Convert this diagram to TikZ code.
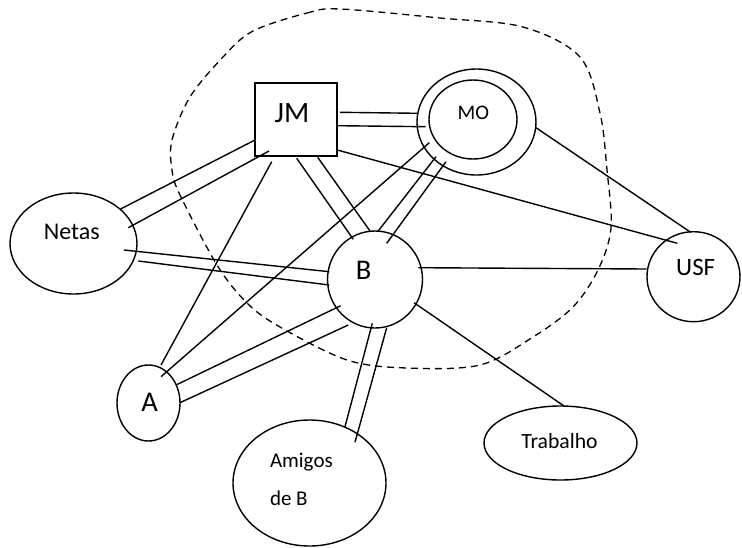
\documentclass[tikz,border=0pt]{standalone}
\usepackage{fontspec}
\setmainfont{Carlito}
\usetikzlibrary{shapes.geometric}
\begin{document}
\begin{tikzpicture}[x=1pt,y=-1pt,
  member/.style={draw, ellipse, line width=1.4pt, inner sep=0pt, outer sep=0pt},
  boxmember/.style={draw, rectangle, line width=1.4pt, inner sep=0pt, outer sep=0pt},
  tie/.style={line width=1.4pt},
  boundary/.style={line width=1.3pt, dash pattern=on 7pt off 5pt},
  lbl/.style={inner sep=0pt, outer sep=0pt, anchor=base},
  lblw/.style={inner sep=0pt, outer sep=0pt, anchor=base west}]
\useasboundingbox (0,0) rectangle (742,547);

% household boundary
\draw[boundary] plot[smooth cycle, tension=0.55] coordinates {
  (253,31) (307,13) (340,9) (440,18) (523,27) (580,57) (600,113)
  (607,170) (611,228) (598,270) (573,307) (533,337) (480,365)
  (407,368) (347,360) (280,327) (247,303) (217,265) (180,195)
  (172,170) (172,140) (190,97) (223,57)};

% members
\node[boxmember, minimum width=82pt, minimum height=73pt] (JM) at (296,119.5) {};
\node[member, minimum width=119pt, minimum height=106pt] (MO) at (476.5,122) {};
\node[member, minimum width=88pt, minimum height=79pt] (MOin) at (473,119.5) {};
\node[member, minimum width=127pt, minimum height=101pt] (Netas) at (73.5,243.5) {};
\node[member, minimum width=95pt, minimum height=97pt] (B) at (375,279.5) {};
\node[member, minimum width=93pt, minimum height=90pt] (USF) at (693.5,276.7) {};
\node[member, minimum width=63pt, minimum height=76pt] (A) at (148.5,403) {};
\node[member, minimum width=153pt, minimum height=126pt] (Amigos) at (309.5,483) {};
\node[member, minimum width=153pt, minimum height=74pt] (Trab) at (560.5,443) {};

% labels
\node[lbl, font=\fontsize{29.5}{30}\selectfont] (tJM) at (292,122.3) {JM};
\node[lbl, font=\fontsize{20.7}{21}\selectfont] (tMO) at (473.3,119.9) {MO};
\node[lbl, font=\fontsize{28.5}{29}\selectfont] (tB) at (363.7,279.8) {B};
\node[lbl, font=\fontsize{24}{25}\selectfont] (tNetas) at (71.8,239.8) {Netas};
\node[lbl, font=\fontsize{25}{26}\selectfont] (tUSF) at (695.7,275.9) {USF};
\node[lbl, font=\fontsize{28.5}{29}\selectfont] (tA) at (149.5,411.5) {A};
\node[lbl, font=\fontsize{21.7}{22}\selectfont] (tTrab) at (559.5,448.2) {Trabalho};
\node[lblw, font=\fontsize{21}{22}\selectfont] (tAmigos) at (270,467.3) {Amigos};
\node[lblw, font=\fontsize{21}{22}\selectfont] (tdeB) at (270,505.4) {de B};

% strong ties (double lines)
\draw[tie] ([shift={(44,-7.2)}]JM.center) -- ([shift={(-58.5,-8.7)}]MO.center);
\draw[tie] ([shift={(42,6.2)}]JM.center) -- ([shift={(-50.8,4.7)}]MO.center);
\draw[tie] ([shift={(-41,20.5)}]JM.center) -- ([shift={(46.5,-34.2)}]Netas.center);
\draw[tie] ([shift={(-27,31.5)}]JM.center) -- ([shift={(54.8,-15.8)}]Netas.center);
\draw[tie] ([shift={(0.7,38.8)}]JM.center) -- ([shift={(-21.7,-40.2)}]B.center);
\draw[tie] ([shift={(21.7,37.8)}]JM.center) -- ([shift={(-5,-48.5)}]B.center);
\draw[tie] ([shift={(-40.5,34.7)}]MO.center) -- ([shift={(2.7,-47.8)}]B.center);
\draw[tie] ([shift={(-30.5,39.7)}]MO.center) -- ([shift={(11.7,-36.2)}]B.center);
\draw[tie] ([shift={(50.5,6.5)}]Netas.center) -- ([shift={(-45.7,-7.8)}]B.center);
\draw[tie] ([shift={(64.8,17.5)}]Netas.center) -- ([shift={(-45.7,5.5)}]B.center);
\draw[tie] ([shift={(-34.3,26.2)}]B.center) -- ([shift={(27.5,-18)}]A.center);
\draw[tie] ([shift={(-26.7,45.5)}]B.center) -- ([shift={(31.5,-0.3)}]A.center);
\draw[tie] ([shift={(-2.7,43.8)}]B.center) -- ([shift={(35.5,-56.3)}]Amigos.center);
\draw[tie] ([shift={(11.7,48.2)}]B.center) -- ([shift={(45.5,-40.7)}]Amigos.center);

% single ties
\draw[tie] ([shift={(-24.3,42.2)}]JM.center) -- ([shift={(12.5,-38)}]A.center);
\draw[tie] ([shift={(41.3,30.5)}]JM.center) -- ([shift={(-16.2,-33.4)}]USF.center);
\draw[tie] ([shift={(59.5,5.7)}]MO.center) -- ([shift={(-2.8,-44.4)}]USF.center);
\draw[tie] ([shift={(-47.2,20.7)}]MO.center) -- ([shift={(12.5,-26.3)}]A.center);
\draw[tie] ([shift={(43.3,-11.8)}]B.center) -- ([shift={(-46.8,-7.7)}]USF.center);
\draw[tie] ([shift={(39,23.2)}]B.center) -- ([shift={(3.5,-37)}]Trab.center);
\end{tikzpicture}
\end{document}
